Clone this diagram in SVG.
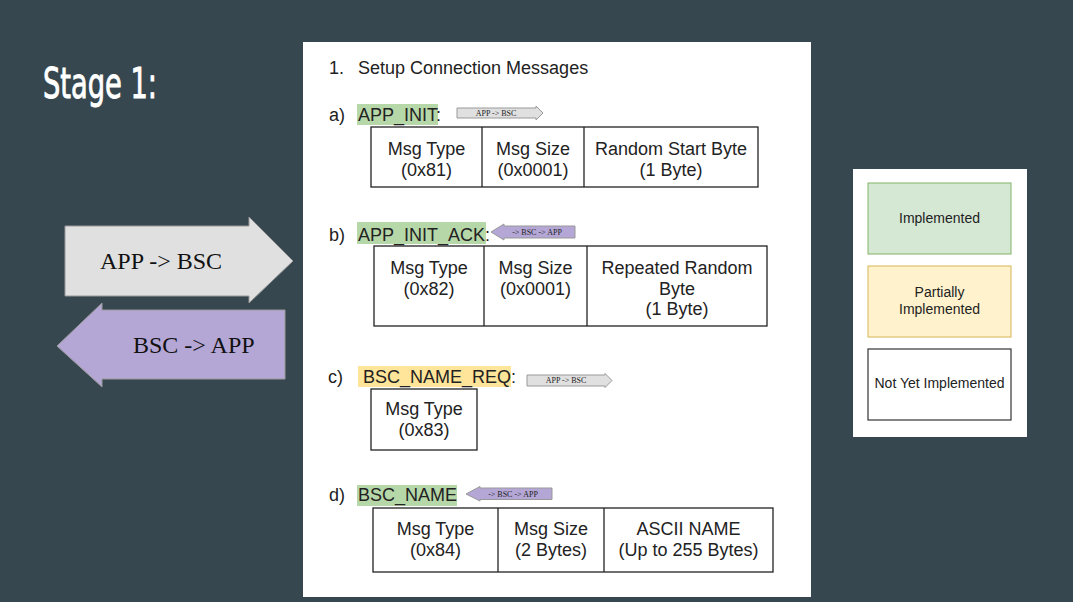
<svg xmlns="http://www.w3.org/2000/svg" width="1073" height="602" viewBox="0 0 1073 602">
<defs>
<style>
.doc{font-family:"Liberation Sans",Arial,sans-serif;fill:#222;}
.t17{font-size:18px;}
.cell{font-family:"Liberation Sans",Arial,sans-serif;font-size:18px;fill:#222;text-anchor:middle;}
.tbl{fill:#fff;stroke:#222;stroke-width:1.3;}
.div{stroke:#222;stroke-width:1.3;}
.grayArrow{fill:#e0e0e0;stroke:#999;stroke-width:1;}
.purpArrow{fill:#b4a7d6;stroke:#999;stroke-width:1;}
.tiny{font-family:"Liberation Serif","Times New Roman",serif;font-size:8px;fill:#222;text-anchor:middle;}
.big{font-family:"Liberation Serif","Times New Roman",serif;font-size:24px;fill:#111;}
.leg{font-family:"Liberation Sans",Arial,sans-serif;font-size:14px;fill:#222;text-anchor:middle;}
</style>
</defs>
<rect x="0" y="0" width="1073" height="602" fill="#37474f"/>

<g id="title">
<text x="43" y="98" font-family="DejaVu Sans Condensed, DejaVu Sans, sans-serif" font-size="42" fill="#fff" stroke="#fff" stroke-width="0.9" textLength="114" lengthAdjust="spacingAndGlyphs">Stage 1:</text>
</g>

<g id="arrow-app-bsc">
<polygon class="grayArrow" points="65,226 249,226 249,217 293,261 249,303 249,296 65,296"/>
<text class="big" x="100" y="269">APP -&gt; BSC</text>
</g>
<g id="arrow-bsc-app">
<polygon class="purpArrow" points="285,310 102,310 102,303 57,346 102,387 102,379 285,379"/>
<text class="big" x="133" y="353">BSC -&gt; APP</text>
</g>

<g id="doc-panel">
<rect x="303" y="42" width="508" height="555" fill="#fff"/>
<text class="doc t17" x="329" y="73.5">1.</text>
<text class="doc t17" x="358" y="73.5">Setup Connection Messages</text>
</g>

<g id="msg-a">
<text class="doc t17" x="329" y="120.5">a)</text>
<rect x="357" y="104" width="81" height="21" fill="#b6d7a8"/>
<text class="doc t17" x="358" y="120.5">APP_INIT<tspan>:</tspan></text>
<polygon class="grayArrow" points="457,108 536,108 536,106 543,113 536,120 536,118 457,118"/>
<text class="tiny" x="496" y="115.8">APP -&gt; BSC</text>
<rect class="tbl" x="371" y="127" width="387" height="60"/>
<line class="div" x1="482" y1="127" x2="482" y2="187"/>
<line class="div" x1="584" y1="127" x2="584" y2="187"/>
<text class="cell" x="426.5" y="155">Msg Type</text>
<text class="cell" x="426.5" y="176">(0x81)</text>
<text class="cell" x="533" y="155">Msg Size</text>
<text class="cell" x="533" y="176">(0x0001)</text>
<text class="cell" x="671" y="155">Random Start Byte</text>
<text class="cell" x="671" y="176">(1 Byte)</text>
</g>

<g id="msg-b">
<text class="doc t17" x="329" y="241">b)</text>
<rect x="357" y="222" width="129" height="22" fill="#b6d7a8"/>
<text class="doc t17" x="358" y="241">APP_INIT_ACK<tspan>:</tspan></text>
<polygon class="purpArrow" points="575,226 504,226 504,224 491,232 504,240 504,238 575,238"/>
<text class="tiny" x="537" y="234.8">-&gt; BSC -&gt; APP</text>
<rect class="tbl" x="374" y="246" width="393" height="80"/>
<line class="div" x1="484" y1="246" x2="484" y2="326"/>
<line class="div" x1="587" y1="246" x2="587" y2="326"/>
<text class="cell" x="429" y="274">Msg Type</text>
<text class="cell" x="429" y="294.5">(0x82)</text>
<text class="cell" x="535.5" y="274">Msg Size</text>
<text class="cell" x="535.5" y="294.5">(0x0001)</text>
<text class="cell" x="677" y="274">Repeated Random</text>
<text class="cell" x="677" y="294.5">Byte</text>
<text class="cell" x="677" y="315">(1 Byte)</text>
</g>

<g id="msg-c">
<text class="doc t17" x="328" y="383">c)</text>
<rect x="358" y="366" width="153" height="21" fill="#ffe599"/>
<text class="doc t17" x="363" y="383">BSC_NAME_REQ<tspan>:</tspan></text>
<polygon class="grayArrow" points="527,375 605,375 605,373.5 612,380.5 605,387.5 605,386 527,386"/>
<text class="tiny" x="566" y="383.3">APP -&gt; BSC</text>
<rect class="tbl" x="371" y="389" width="106" height="61"/>
<text class="cell" x="424" y="415">Msg Type</text>
<text class="cell" x="424" y="436">(0x83)</text>
</g>

<g id="msg-d">
<text class="doc t17" x="329" y="500.5">d)</text>
<rect x="357" y="485" width="100" height="21" fill="#b6d7a8"/>
<text class="doc t17" x="358" y="500.5">BSC_NAME</text>
<polygon class="purpArrow" points="552,488 480,488 480,486.5 466,494 480,501 480,499.5 552,499.5"/>
<text class="tiny" x="513" y="496.8">-&gt; BSC -&gt; APP</text>
<rect class="tbl" x="373" y="508" width="400" height="64"/>
<line class="div" x1="498" y1="508" x2="498" y2="572"/>
<line class="div" x1="604" y1="508" x2="604" y2="572"/>
<text class="cell" x="435.5" y="535">Msg Type</text>
<text class="cell" x="435.5" y="556">(0x84)</text>
<text class="cell" x="551" y="535">Msg Size</text>
<text class="cell" x="551" y="556">(2 Bytes)</text>
<text class="cell" x="688.5" y="535">ASCII NAME</text>
<text class="cell" x="688.5" y="556">(Up to 255 Bytes)</text>
</g>

<g id="legend">
<rect x="853" y="169" width="174" height="268" fill="#fff"/>
<g id="legend-implemented">
<rect x="868" y="183" width="143" height="71" fill="#d5e8d4" stroke="#82b366" stroke-width="1"/>
<text class="leg" x="939.5" y="223">Implemented</text>
</g>
<g id="legend-partial">
<rect x="868" y="266" width="143" height="71" fill="#fff2cc" stroke="#d6b656" stroke-width="1"/>
<text class="leg" x="939.5" y="297">Partially</text>
<text class="leg" x="939.5" y="314">Implemented</text>
</g>
<g id="legend-not">
<rect x="868" y="349" width="143" height="71" fill="#fff" stroke="#333" stroke-width="1.2"/>
<text class="leg" x="939.5" y="388">Not Yet Implemented</text>
</g>
</g>

<g id="connectors"/>
</svg>
